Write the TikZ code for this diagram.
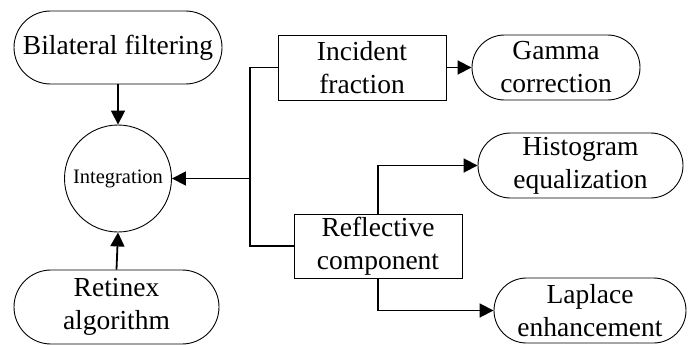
\documentclass[tikz,border=0pt]{standalone}
\usepackage{fontspec}
\setmainfont{Liberation Serif}
\usetikzlibrary{arrows.meta}
\begin{document}
\begin{tikzpicture}[x=1pt,y=-1pt,
  every node/.style={font=\fontsize{27.5}{33}\selectfont, align=center, inner sep=0pt},
  pill/.style n args={2}{draw, line width=0.9pt, minimum width=#1, minimum height=#2, rounded corners=#2/2},
  boxnode/.style n args={2}{draw, line width=0.9pt, minimum width=#1, minimum height=#2},
  link/.style={line width=1.8pt},
  arr/.style={link, -{Triangle[length=14pt,width=14pt]}}
]
\useasboundingbox (0,0) rectangle (688,345);

\node[pill={208pt}{73pt}] (bil) at (118,47.5) {Bilateral filtering};
\node[draw, circle, line width=0.9pt, minimum size=107pt, font=\fontsize{20.5}{24}\selectfont] (integ) at (118,178.5) {Integration};
\node[pill={205pt}{74pt}] (ret) at (116.5,307) {Retinex\\algorithm};

\node[boxnode={168pt}{65pt}] (inc) at (362,67.5) {Incident\\fraction};
\node[pill={168pt}{65pt}] (gam) at (556,67.5) {Gamma\\correction};
\node[boxnode={168pt}{64pt}] (refl) at (378,246) {Reflective\\component};
\node[pill={205pt}{65pt}] (hist) at (580.5,165.5) {Histogram\\equalization};
\node[pill={192pt}{65pt}] (lap) at (590,310.5) {Laplace\\enhancement};

\coordinate (bus) at (250,178.5);

\draw[arr] (bil.south) -- (integ.north);
\draw[arr] (ret.north) -- (integ.south);
\draw[link] (inc.west) -| (bus) |- (refl.west);
\draw[arr] (bus) -- (integ.east);
\draw[arr] (inc.east) -- (gam.west);
\draw[arr] (refl.north) |- (hist.west);
\draw[arr] (refl.south) |- (lap.west);
\end{tikzpicture}
\end{document}
